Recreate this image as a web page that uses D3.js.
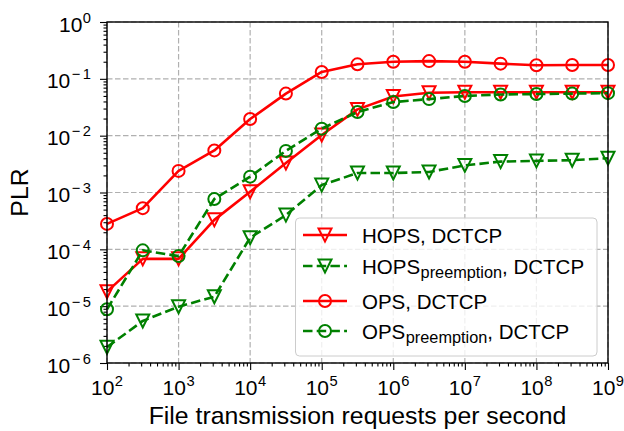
<!DOCTYPE html>
<html>
<head>
<meta charset="utf-8">
<script src="https://cdn.jsdelivr.net/npm/d3@7"></script>
<style>
  html, body { margin: 0; padding: 0; background: #fff; }
  svg { display: block; font-family: "Liberation Sans", Arial, sans-serif; }
</style>
</head>
<body>
<svg id="chart" width="624" height="431"></svg>
<script>
// ---- data ----
const xValues = [1e2, 3.16e2, 1e3, 3.16e3, 1e4, 3.16e4, 1e5, 3.16e5, 1e6, 3.16e6, 1e7, 3.16e7, 1e8, 3.16e8, 1e9];
const hopsDctcp = [1.8e-5, 6.8e-5, 6.8e-5, 3.3e-4, 1.03e-3, 3.3e-3, 1.03e-2, 2.9e-2, 4.9e-2, 5.7e-2, 5.8e-2, 5.8e-2, 5.8e-2, 5.8e-2, 5.8e-2];
const hopsPreDctcp = [1.9e-6, 5.5e-6, 9.8e-6, 1.47e-5, 1.6e-4, 4.0e-4, 1.35e-3, 2.2e-3, 2.2e-3, 2.3e-3, 3.0e-3, 3.5e-3, 3.6e-3, 3.7e-3, 4.0e-3];
const opsDctcp = [2.8e-4, 5.3e-4, 2.4e-3, 5.5e-3, 1.96e-2, 5.5e-2, 1.32e-1, 1.8e-1, 2.0e-1, 2.05e-1, 2.0e-1, 1.85e-1, 1.73e-1, 1.75e-1, 1.75e-1];
const opsPreDctcp = [8.8e-6, 9.6e-5, 7.6e-5, 7.7e-4, 1.9e-3, 5.4e-3, 1.33e-2, 2.6e-2, 3.9e-2, 4.4e-2, 5.0e-2, 5.3e-2, 5.4e-2, 5.5e-2, 5.6e-2];
const xTickExps = [2, 3, 4, 5, 6, 7, 8, 9];
const yTickExps = [-6, -5, -4, -3, -2, -1, 0];
const xLabel = "File transmission requests per second";
const yLabel = "PLR";

const seriesList = [
  { main: "HOPS", sub: null, tail: ", DCTCP", values: hopsDctcp, color: "#ff0000", dashed: false, marker: "tri" },
  { main: "HOPS", sub: "preemption", tail: ", DCTCP", values: hopsPreDctcp, color: "#008000", dashed: true, marker: "tri" },
  { main: "OPS", sub: null, tail: ", DCTCP", values: opsDctcp, color: "#ff0000", dashed: false, marker: "circle" },
  { main: "OPS", sub: "preemption", tail: ", DCTCP", values: opsPreDctcp, color: "#008000", dashed: true, marker: "circle" }
];

// ---- layout ----
const L = 107, R = 608, T = 22, B = 363;
const FS = 20.5, TICKFS = 21, SUPFS = 14.7, LABFS = 24.8;
const svg = d3.select("#chart");
const x = d3.scaleLog().domain([1e2, 1e9]).range([L, R]);
const y = d3.scaleLog().domain([1e-6, 1e0]).range([B, T]);

// grid
const grid = svg.append("g");
xTickExps.forEach(e => {
  grid.append("line").attr("x1", x(Math.pow(10, e))).attr("x2", x(Math.pow(10, e)))
    .attr("y1", T).attr("y2", B)
    .attr("stroke", "#b0b0b0").attr("stroke-width", 1.2).attr("stroke-dasharray", "5.5,2.5");
});
yTickExps.forEach(e => {
  grid.append("line").attr("y1", y(Math.pow(10, e))).attr("y2", y(Math.pow(10, e)))
    .attr("x1", L).attr("x2", R)
    .attr("stroke", "#b0b0b0").attr("stroke-width", 1.2).attr("stroke-dasharray", "5.5,2.5");
});

// axes with ticks (major + minor)
const xAxis = d3.axisBottom(x).tickValues(xTickExps.map(e => Math.pow(10, e))).tickSize(7).tickFormat("");
const yAxis = d3.axisLeft(y).tickValues(yTickExps.map(e => Math.pow(10, e))).tickSize(7).tickFormat("");
const minorX = [];
for (let e = 2; e < 9; e++) for (let k = 2; k <= 9; k++) minorX.push(k * Math.pow(10, e));
const minorY = [];
for (let e = -6; e < 0; e++) for (let k = 2; k <= 9; k++) minorY.push(k * Math.pow(10, e));

const gx = svg.append("g").attr("transform", `translate(0,${B})`).call(xAxis);
const gxm = svg.append("g").attr("transform", `translate(0,${B})`)
  .call(d3.axisBottom(x).tickValues(minorX).tickSize(3.5).tickFormat(""));
const gy = svg.append("g").attr("transform", `translate(${L},0)`).call(yAxis);
const gym = svg.append("g").attr("transform", `translate(${L},0)`)
  .call(d3.axisLeft(y).tickValues(minorY).tickSize(3.5).tickFormat(""));
[gx, gxm, gy, gym].forEach(g => {
  g.select(".domain").remove();
  g.selectAll("line").attr("stroke", "#000").attr("stroke-width", 1.1);
});

// tick labels
xTickExps.forEach(e => {
  const t = svg.append("text").attr("x", x(Math.pow(10, e))).attr("y", B + 32)
    .attr("text-anchor", "middle").attr("font-size", TICKFS).attr("fill", "#000");
  t.append("tspan").text("10");
  t.append("tspan").attr("font-size", SUPFS).attr("dy", -9).attr("dx", 0.5).text(String(e));
});
yTickExps.forEach(e => {
  const t = svg.append("text").attr("x", 91).attr("y", y(Math.pow(10, e)) + 9.5)
    .attr("text-anchor", "end").attr("font-size", TICKFS).attr("fill", "#000");
  t.append("tspan").text("10");
  if (e < 0) {
    t.append("tspan").attr("font-size", SUPFS).attr("dy", -9).attr("dx", 1.5).text("\u2212");
    t.append("tspan").attr("font-size", SUPFS).attr("dx", 2.5).text(String(-e));
  } else {
    t.append("tspan").attr("font-size", SUPFS).attr("dy", -9).attr("dx", 0.5).text(String(e));
  }
});

// axis labels
svg.append("text").attr("x", (L + R) / 2).attr("y", 424).attr("text-anchor", "middle")
  .attr("font-size", LABFS).attr("fill", "#000").text(xLabel);
svg.append("text").attr("transform", `translate(27.5,${(T + B) / 2}) rotate(-90)`)
  .attr("text-anchor", "middle").attr("font-size", LABFS).attr("fill", "#000").text(yLabel);

// markers
const MS = 13;
function drawMarker(g, type, cx, cy, color) {
  if (type === "circle") {
    g.append("circle").attr("cx", cx).attr("cy", cy).attr("r", MS / 2 - 0.5)
      .attr("fill", "none").attr("stroke", color).attr("stroke-width", 2);
  } else {
    const h = MS / 2;
    g.append("path").attr("d", `M${cx - h},${cy - h}L${cx + h},${cy - h}L${cx},${cy + h}Z`)
      .attr("fill", "none").attr("stroke", color).attr("stroke-width", 2).attr("stroke-linejoin", "miter");
  }
}

// series
const plot = svg.append("g");
const line = d3.line().x((d, i) => x(xValues[i])).y(d => y(d));
seriesList.forEach(s => {
  plot.append("path").attr("d", line(s.values)).attr("fill", "none")
    .attr("stroke", s.color).attr("stroke-width", 2.6)
    .attr("stroke-dasharray", s.dashed ? "9.5,4.2" : null)
    .attr("stroke-linejoin", "round");
  const mg = plot.append("g");
  s.values.forEach((v, i) => drawMarker(mg, s.marker, x(xValues[i]), y(v), s.color));
});

// frame
svg.append("rect").attr("x", L).attr("y", T).attr("width", R - L).attr("height", B - T)
  .attr("fill", "none").attr("stroke", "#000").attr("stroke-width", 1.4);

// legend
const lg = svg.append("g");
lg.append("rect").attr("x", 295.5).attr("y", 218).attr("width", 301.5).attr("height", 138)
  .attr("rx", 4).attr("fill", "rgba(255,255,255,0.8)").attr("stroke", "#cccccc").attr("stroke-width", 1);
const rowLine = [235, 266, 301, 331];
const rowBase = [243, 274, 309, 339];
seriesList.forEach((s, i) => {
  lg.append("line").attr("x1", 303).attr("x2", 347).attr("y1", rowLine[i]).attr("y2", rowLine[i])
    .attr("stroke", s.color).attr("stroke-width", 2.6)
    .attr("stroke-dasharray", s.dashed ? "9.5,4.2" : null);
  drawMarker(lg, s.marker, 325, rowLine[i], s.color);
  const t = lg.append("text").attr("x", 362).attr("y", rowBase[i]).attr("font-size", FS).attr("fill", "#000");
  t.append("tspan").text(s.main);
  if (s.sub) {
    t.append("tspan").attr("font-size", 16.3).attr("dy", 4).attr("dx", 0.5).text(s.sub);
    t.append("tspan").attr("dy", -4).text(s.tail);
  } else {
    t.append("tspan").text(s.tail);
  }
});
</script>
</body>
</html>
